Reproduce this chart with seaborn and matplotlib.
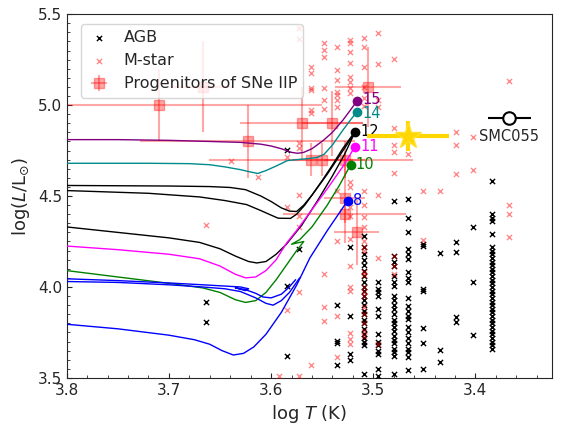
import numpy as np
import pandas as pd
import seaborn as sns
import matplotlib.pyplot as plt
from matplotlib.ticker import MultipleLocator

sns.set_style('ticks')
plt.rcParams['font.family'] = ['DejaVu Sans']

# AGB stars, grouped by logT column
agb_cols = {
    3.664: [3.916, 3.807],
    3.584: [4.755, 4.004, 3.621],
    3.573: [4.207],
    3.535: [3.90, 3.703, 3.69, 3.571],
    3.523: [4.218, 3.840, 3.632, 3.60],
    3.509: [4.28, 4.22, 4.18, 4.15, 4.12, 4.09, 4.06, 4.03, 4.00, 3.98, 3.95,
            3.93, 3.90, 3.87, 3.85, 3.82, 3.80, 3.77, 3.74, 3.72, 3.70, 3.68, 3.52],
    3.495: [4.026, 3.99, 3.971, 3.95, 3.878, 3.84, 3.741, 3.697, 3.68, 3.65,
            3.632, 3.549, 3.511],
    3.480: [4.47, 4.168, 4.14, 4.114, 4.059, 4.03, 4.004, 3.949, 3.93, 3.90,
            3.88, 3.85, 3.82, 3.80, 3.78, 3.76, 3.73, 3.71, 3.69, 3.66, 3.64,
            3.62, 3.522],
    3.466: [4.481, 4.377, 4.30, 4.207, 4.18, 4.152, 4.081, 4.05, 4.026, 3.938,
            3.895, 3.87, 3.84, 3.823, 3.779, 3.75, 3.72, 3.69, 3.66, 3.64, 3.615,
            3.544],
    3.451: [4.234, 4.223, 3.988, 3.977, 3.774, 3.692, 3.549],
    3.435: [4.185, 3.653, 3.588],
    3.419: [4.245, 4.19, 3.834, 3.807],
    3.402: [4.327, 4.026, 3.736],
    3.384: [4.585, 4.399, 4.38, 4.36, 4.289, 4.22, 4.20, 4.18, 4.16, 4.14, 4.12,
            4.10, 4.08, 4.06, 4.04, 4.02, 4.00, 3.98, 3.96, 3.94, 3.92, 3.90,
            3.88, 3.86, 3.84, 3.82, 3.80, 3.78, 3.76, 3.74, 3.72, 3.70, 3.68, 3.66],
}

# M-type supergiants, grouped by logT column
mstar_cols = {
    3.664: [4.34],
    3.639: [4.695],
    3.613: [4.607],
    3.592: [3.51],
    3.584: [4.716, 4.437, 3.873],
    3.573: [5.423, 5.363, 4.793, 4.766, 4.508, 4.388, 4.327, 3.971, 3.511],
    3.561: [5.21, 5.177, 5.095, 5.084, 4.974, 4.958, 3.571],
    3.548: [5.341, 5.303, 5.264, 5.095, 5.029, 4.98, 4.07, 3.889, 3.812],
    3.535: [5.319, 5.193, 5.138, 5.073, 5.056, 5.029, 4.99, 4.525, 4.251, 3.84, 3.615],
    3.523: [5.358, 5.341, 5.292, 5.232, 5.155, 5.127, 5.095, 5.067, 4.579, 4.547,
            4.442, 4.388, 4.262, 4.114, 3.999, 3.977, 3.747, 3.714, 3.686],
    3.509: [5.368, 5.319, 5.21, 5.10, 5.04, 4.996, 4.525, 4.448, 4.382, 4.327,
            4.251, 4.22, 4.196, 4.081, 4.064, 4.00, 3.97, 3.95, 3.89, 3.85, 3.80,
            3.76, 3.73],
    3.495: [5.396, 5.226, 5.029, 4.99, 4.508, 4.158, 3.686],
    3.480: [5.253, 4.875, 4.782, 4.744, 4.629, 4.168, 4.114, 4.07],
    3.466: [4.733],
    3.451: [4.53, 4.256],
    3.435: [4.53],
    3.419: [4.853, 4.782, 4.623],
    3.402: [4.826, 4.645],
    3.367: [5.133, 4.448, 4.399, 4.273],
}

# SN IIP progenitors
prog_logT = [3.71, 3.667, 3.623, 3.57, 3.505, 3.54, 3.561, 3.55, 3.528, 3.528, 3.528, 3.516]
prog_logL = [5.00, 5.10, 4.80, 4.90, 5.10, 4.90, 4.70, 4.70, 4.70, 4.49, 4.40, 4.30]
prog_xerr = [0.16, 0.03, 0.105, 0.06, 0.032, 0.03, 0.10, 0.03, 0.02, 0.02, 0.06, 0.022]
prog_yerr = [0.20, 0.25, 0.20, 0.20, 0.22, 0.18, 0.09, 0.09, 0.10, 0.25, 0.05, 0.18]

# evolutionary tracks: (label, colour, logT, logL)
tracks = [
    ('15', 'purple',
     [3.80, 3.75, 3.70, 3.66, 3.63, 3.61, 3.60, 3.59, 3.58, 3.574, 3.568, 3.56, 3.549,
      3.54, 3.53, 3.522, 3.516],
     [4.81, 4.81, 4.806, 4.80, 4.795, 4.785, 4.775, 4.76, 4.74, 4.735, 4.74, 4.76, 4.805,
      4.85, 4.915, 4.975, 5.022]),
    ('14', 'darkcyan',
     [3.80, 3.72, 3.68, 3.66, 3.645, 3.63, 3.62, 3.613, 3.605, 3.595, 3.584, 3.575, 3.565,
      3.555, 3.548, 3.54, 3.53, 3.522, 3.516],
     [4.68, 4.68, 4.678, 4.672, 4.66, 4.645, 4.632, 4.624, 4.64, 4.665, 4.695, 4.70, 4.705,
      4.712, 4.73, 4.78, 4.86, 4.92, 4.963]),
    ('12', 'black',
     [3.80, 3.70, 3.66, 3.64, 3.625, 3.61, 3.60, 3.59, 3.582, 3.575, 3.568, 3.56, 3.55,
      3.54, 3.53, 3.518],
     [4.558, 4.555, 4.552, 4.547, 4.535, 4.50, 4.47, 4.435, 4.417, 4.415, 4.45, 4.505, 4.585,
      4.67, 4.76, 4.853]),
    (None, 'black',
     [3.80, 3.72, 3.67, 3.645, 3.624, 3.61, 3.60, 3.593, 3.581, 3.575, 3.567, 3.558, 3.545,
      3.532, 3.52],
     [4.53, 4.515, 4.495, 4.475, 4.453, 4.42, 4.395, 4.378, 4.377, 4.40, 4.45, 4.52, 4.62,
      4.73, 4.83]),
    (None, 'black',
     [3.80, 3.75, 3.70, 3.67, 3.65, 3.635, 3.622, 3.614, 3.605, 3.595, 3.585, 3.57, 3.555,
      3.54, 3.528, 3.518],
     [4.33, 4.30, 4.27, 4.245, 4.21, 4.17, 4.14, 4.132, 4.14, 4.18, 4.235, 4.34, 4.47,
      4.61, 4.73, 4.85]),
    ('11', 'magenta',
     [3.80, 3.75, 3.70, 3.67, 3.65, 3.635, 3.625, 3.615, 3.605, 3.595, 3.585, 3.575, 3.562,
      3.545, 3.53, 3.518],
     [4.225, 4.205, 4.18, 4.155, 4.115, 4.07, 4.05, 4.055, 4.09, 4.15, 4.24, 4.31, 4.41,
      4.54, 4.66, 4.77]),
    ('10', 'green',
     [3.80, 3.75, 3.70, 3.667, 3.65, 3.635, 3.625, 3.615, 3.605, 3.595, 3.585, 3.575, 3.568,
      3.58, 3.572, 3.56, 3.545, 3.533, 3.522],
     [4.09, 4.055, 4.02, 3.995, 3.97, 3.93, 3.915, 3.925, 3.97, 4.04, 4.12, 4.20, 4.25,
      4.235, 4.26, 4.33, 4.45, 4.56, 4.673]),
    (None, 'blue',
     [3.80, 3.75, 3.70, 3.667, 3.645, 3.63, 3.622, 3.625, 3.635, 3.625, 3.615, 3.608, 3.60,
      3.59, 3.583, 3.576],
     [4.045, 4.035, 4.022, 4.012, 4.005, 4.0, 3.99, 3.98, 3.995, 3.985, 3.965, 3.945, 3.94,
      3.96, 3.995, 4.04]),
    (None, 'blue',
     [3.80, 3.75, 3.70, 3.667, 3.645, 3.63, 3.615, 3.605, 3.598, 3.59, 3.582, 3.572],
     [4.03, 4.025, 4.012, 4.0, 3.99, 3.975, 3.94, 3.91, 3.90, 3.925, 3.97, 4.05]),
    ('8', 'blue',
     [3.80, 3.75, 3.70, 3.675, 3.66, 3.648, 3.637, 3.627, 3.617, 3.605, 3.59, 3.575, 3.562,
      3.545, 3.525],
     [3.795, 3.77, 3.735, 3.71, 3.685, 3.65, 3.626, 3.635, 3.67, 3.74, 3.86, 4.01, 4.16,
      4.31, 4.475]),
]
# small vertical nudges so the 15 / 14 labels do not collide
label_dy = {'15': 0.01, '14': -0.008}

# target star and SMC055
star_logT, star_logL, star_xerr, star_yerr = 3.466, 4.83, 0.04, 0.085
smc_logT, smc_logL, smc_xerr = 3.367, 4.93, 0.021

agb = pd.DataFrame([(t, l) for t, ls in agb_cols.items() for l in ls], columns=['logT', 'logL'])
mst = pd.DataFrame([(t, l) for t, ls in mstar_cols.items() for l in ls], columns=['logT', 'logL'])

fig, ax = plt.subplots(figsize=(5.61, 4.28), dpi=100)
fig.subplots_adjust(left=0.119, right=0.984, bottom=0.117, top=0.967)

sns.scatterplot(data=agb, x='logT', y='logL', marker='x', color='black', s=14,
                linewidth=1, label='AGB', ax=ax, zorder=3)
sns.scatterplot(data=mst, x='logT', y='logL', marker='x', color='red', alpha=0.45, s=14,
                linewidth=1, label='M-star', ax=ax, zorder=3)
ax.errorbar(prog_logT, prog_logL, xerr=prog_xerr, yerr=prog_yerr, fmt='s', color='red',
            alpha=0.35, ms=7, elinewidth=1.5, capsize=0, label='Progenitors of SNe IIP', zorder=2)

for name, c, t, l in tracks:
    sns.lineplot(x=t, y=l, sort=False, estimator=None, color=c, lw=1, ax=ax, zorder=4)
    if name is not None:
        ax.plot(t[-1], l[-1], 'o', color=c, ms=6, zorder=5)
        ax.text(t[-1] - 0.005, l[-1] + label_dy.get(name, 0), name, color=c, fontsize=10.5,
                ha='left', va='center', zorder=6)

ax.errorbar(star_logT, star_logL, xerr=star_xerr, yerr=star_yerr, fmt='*', color='gold',
            mec='#ffe030', ms=20, elinewidth=3, capsize=0, zorder=7)
ax.errorbar(smc_logT, smc_logL, xerr=smc_xerr, fmt='o', color='black', mfc='white',
            mec='black', ms=9, mew=1.5, elinewidth=1.5, capsize=0, zorder=7)
ax.text(smc_logT, smc_logL - 0.06, 'SMC055', fontsize=10.5, ha='center', va='top')

ax.set_xlim(3.8, 3.325)
ax.set_ylim(3.5, 5.5)
ax.xaxis.set_major_locator(MultipleLocator(0.1))
ax.xaxis.set_minor_locator(MultipleLocator(0.02))
ax.yaxis.set_major_locator(MultipleLocator(0.5))
ax.yaxis.set_minor_locator(MultipleLocator(0.05))
ax.tick_params(which='both', direction='in', top=False, right=False, labelsize=11)
ax.set_xlabel(r'log $T$ (K)', fontsize=13)
ax.set_ylabel(r'$\log(L/\mathrm{L}_{\odot})$', fontsize=13)

ax.legend(loc='upper left', bbox_to_anchor=(0.012, 0.995), fontsize=11.5, handlelength=1.5)
fig.savefig('out.png', dpi=100)
